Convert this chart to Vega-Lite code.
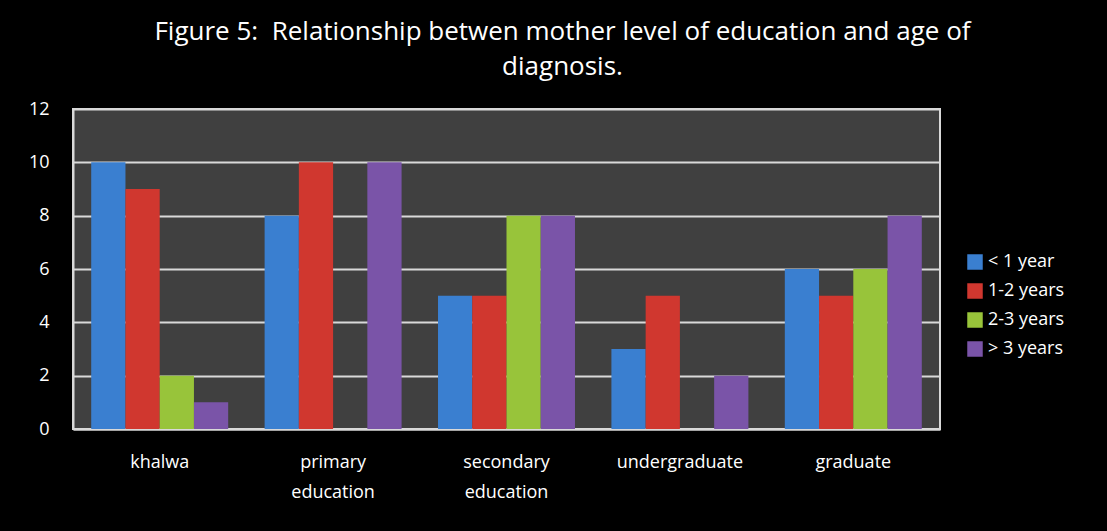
{
  "$schema": "https://vega.github.io/schema/vega-lite/v6.json",
  "autosize": "none",
  "width": 867,
  "height": 320,
  "padding": {"left": 73, "top": 109, "right": 167, "bottom": 102},
  "background": "#000000",
  "title": {
    "text": ["Figure 5:\u00a0 Relationship betwen mother level of education and age of", "diagnosis."],
    "color": "#ffffff",
    "font": "Open Sans",
    "fontSize": 26,
    "fontWeight": "normal",
    "lineHeight": 35,
    "anchor": "middle",
    "frame": "group",
    "dx": 56,
    "offset": 20
  },
  "data": {
    "values": [
      {"education": "khalwa", "age": "< 1 year", "count": 10},
      {"education": "khalwa", "age": "1-2 years", "count": 9},
      {"education": "khalwa", "age": "2-3 years", "count": 2},
      {"education": "khalwa", "age": "> 3 years", "count": 1},
      {"education": "primary education", "age": "< 1 year", "count": 8},
      {"education": "primary education", "age": "1-2 years", "count": 10},
      {"education": "primary education", "age": "2-3 years", "count": 0},
      {"education": "primary education", "age": "> 3 years", "count": 10},
      {"education": "secondary education", "age": "< 1 year", "count": 5},
      {"education": "secondary education", "age": "1-2 years", "count": 5},
      {"education": "secondary education", "age": "2-3 years", "count": 8},
      {"education": "secondary education", "age": "> 3 years", "count": 8},
      {"education": "undergraduate", "age": "< 1 year", "count": 3},
      {"education": "undergraduate", "age": "1-2 years", "count": 5},
      {"education": "undergraduate", "age": "2-3 years", "count": 0},
      {"education": "undergraduate", "age": "> 3 years", "count": 2},
      {"education": "graduate", "age": "< 1 year", "count": 6},
      {"education": "graduate", "age": "1-2 years", "count": 5},
      {"education": "graduate", "age": "2-3 years", "count": 6},
      {"education": "graduate", "age": "> 3 years", "count": 8}
    ]
  },
  "config": {
    "view": {"fill": "#404040", "stroke": "#d9d9d9", "strokeWidth": 2},
    "font": "Open Sans"
  },
  "mark": {"type": "bar"},
  "encoding": {
    "x": {
      "field": "education",
      "type": "nominal",
      "sort": null,
      "scale": {"paddingInner": 0.21, "paddingOuter": 0.105},
      "axis": {
        "title": null,
        "labelAngle": 0,
        "labelColor": "#ffffff",
        "labelFontSize": 18,
        "labelPadding": 24,
        "labelLineHeight": 30,
        "labelExpr": "split(datum.label, ' ')",
        "ticks": false,
        "domainColor": "#d9d9d9",
        "domainWidth": 2,
        "grid": false
      }
    },
    "xOffset": {
      "field": "age",
      "type": "nominal",
      "sort": ["< 1 year", "1-2 years", "2-3 years", "> 3 years"],
      "scale": {"paddingInner": 0, "paddingOuter": 0}
    },
    "y": {
      "field": "count",
      "type": "quantitative",
      "scale": {"domain": [0, 12]},
      "axis": {
        "title": null,
        "values": [0, 2, 4, 6, 8, 10, 12],
        "labelColor": "#ffffff",
        "labelFontSize": 18,
        "labelPadding": 24,
        "ticks": false,
        "domainColor": "#d9d9d9",
        "domainWidth": 2,
        "gridColor": "#d9d9d9",
        "gridWidth": 2,
        "gridOpacity": 1
      }
    },
    "color": {
      "field": "age",
      "type": "nominal",
      "sort": ["< 1 year", "1-2 years", "2-3 years", "> 3 years"],
      "scale": {
        "domain": ["< 1 year", "1-2 years", "2-3 years", "> 3 years"],
        "range": ["#3a7fd0", "#d0372f", "#98c43a", "#7a54a8"]
      },
      "legend": {
        "title": null,
        "orient": "none",
        "legendX": 893,
        "legendY": 144,
        "symbolType": "square",
        "symbolSize": 240,
        "symbolStrokeWidth": 0,
        "labelColor": "#ffffff",
        "labelFontSize": 18,
        "labelOffset": 4,
        "rowPadding": 11
      }
    }
  }
}
